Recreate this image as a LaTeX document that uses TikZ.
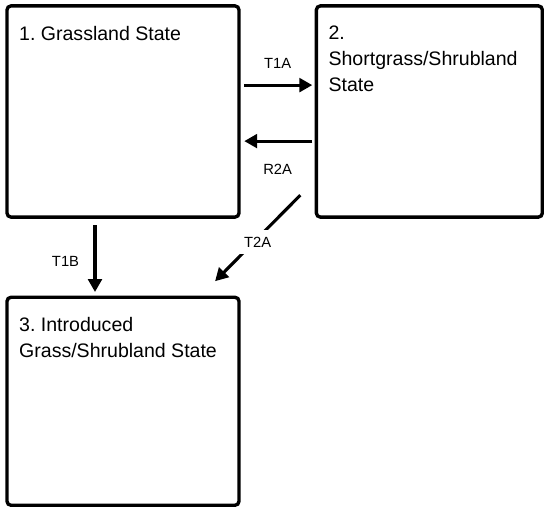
\documentclass[tikz,border=0pt]{standalone}
\usepackage{fontspec}
\setmainfont{Liberation Sans}
\usepackage{tikz}
\usetikzlibrary{positioning, arrows.meta, calc}
\frenchspacing

\begin{document}
\begin{tikzpicture}[
    node distance=1.85cm and 1.85cm,
    statebox/.style={draw, line width=2.4pt, rounded corners=0.1cm, minimum width=5.8cm, minimum height=5.28cm},
    statename/.style={anchor=north west, inner sep=0pt, align=left, font=\fontsize{13.9pt}{18.5pt}\selectfont},
    trans/.style={line width=2.2pt, -{Triangle[length=0.32cm, width=0.34cm]}},
    translabel/.style={inner sep=0pt, font=\fontsize{10.5pt}{12pt}\selectfont}
]
    \useasboundingbox (0,0) rectangle (13.6,-12.725);

    % States
    \node[statebox] (grass) at (3.075,-2.7875) {};
    \node[statebox, minimum width=5.65cm, right=of grass] (short) {};
    \node[statebox, minimum height=5.2cm, below=1.92cm of grass] (intro) {};

    \node[statename] (grassname) at ($(grass.north west)+(0.34,-0.54)$) {1. Grassland State};
    \node[statename] (shortname) at ($(short.north west)+(0.34,-0.54)$) {2.\\Shortgrass/Shrubland\\State};
    \node[statename] (introname) at ($(intro.north west)+(0.34,-0.54)$) {3. Introduced\\Grass/Shrubland State};

    % Transitions
    \draw[trans, shorten <=0.09cm, shorten >=0.06cm] ([yshift=0.66cm]grass.east) -- ([yshift=0.66cm]grass.east -| short.west)
        node[translabel, midway, above=0.37cm] {T1A};
    \draw[trans, shorten <=0.06cm, shorten >=0.09cm] ([yshift=-0.74cm]grass.east -| short.west) -- ([yshift=-0.74cm]grass.east)
        node[translabel, midway, below=0.54cm] {R2A};
    \draw[trans, shorten <=0.16cm, shorten >=0.09cm] ([xshift=-0.7cm]grass.south) -- ([xshift=-0.7cm]grass.south |- intro.north)
        node[translabel, pos=0.55, left=0.36cm] {T1B};
    \draw[trans] ($(short.south west)+(-0.36,0.59)$) -- ($(intro.north east)+(-0.64,0.36)$)
        node[translabel, midway, fill=white, inner sep=5pt, yshift=-0.1cm] {T2A};
\end{tikzpicture}
\end{document}
